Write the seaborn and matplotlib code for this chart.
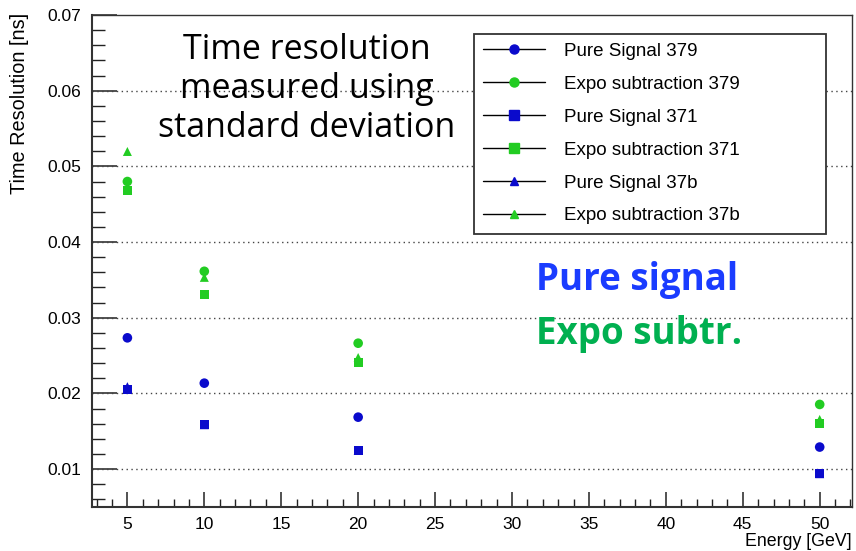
import matplotlib
matplotlib.use("Agg")
import matplotlib.pyplot as plt
from matplotlib.lines import Line2D
from matplotlib.ticker import MultipleLocator
import numpy as np
import pandas as pd
import seaborn as sns

# Beam energies [GeV]
energies = [5, 10, 20, 50]

# Time resolution [ns] from the standard deviation of the timing distribution
pure_379 = [0.02735, 0.02136, 0.01687, 0.01292]
expo_379 = [0.0480, 0.03614, 0.02664, 0.01855]
pure_371 = [0.02055, 0.01587, 0.01248, 0.00940]
expo_371 = [0.0468, 0.0331, 0.02413, 0.01608]
pure_37b = [0.0209, 0.01587, 0.01248, 0.00940]
expo_37b = [0.05197, 0.03534, 0.02475, 0.01657]

series_labels = ["Pure Signal 379", "Expo subtraction 379",
                 "Pure Signal 371", "Expo subtraction 371",
                 "Pure Signal 37b", "Expo subtraction 37b"]
series_values = [pure_379, expo_379, pure_371, expo_371, pure_37b, expo_37b]

BLUE = "#0a0acc"
GREEN = "#22cc22"
series_colors = [BLUE, GREEN, BLUE, GREEN, BLUE, GREEN]
series_markers = ["o", "o", "s", "s", "^", "^"]
series_sizes = [48, 48, 44, 44, 42, 42]

frames = []
for lab, vals in zip(series_labels, series_values):
    frames.append(pd.DataFrame({"energy": energies, "resolution": vals, "series": lab}))
df = pd.concat(frames, ignore_index=True)

sns.set_style("white")
plt.rcParams["font.family"] = ["Liberation Sans", "DejaVu Sans"]
plt.rcParams["text.color"] = "black"
plt.rcParams["xtick.color"] = "black"
plt.rcParams["ytick.color"] = "black"

fig = plt.figure(figsize=(8.56, 5.51), dpi=100)
ax = fig.add_axes([92 / 856, 44 / 551, 760 / 856, 492 / 551])

for lab, col, mk, sz in zip(series_labels, series_colors, series_markers, series_sizes):
    sub = df[df["series"] == lab]
    sns.scatterplot(data=sub, x="energy", y="resolution", ax=ax, color=col,
                    marker=mk, s=sz, edgecolor="none", linewidth=0,
                    legend=False, zorder=3)

ax.set_xlim(2.7, 52.1)
ax.set_ylim(0.005, 0.07)

ax.xaxis.set_minor_locator(MultipleLocator(1))
ax.yaxis.set_minor_locator(MultipleLocator(0.002))
ax.set_xticks([5, 10, 15, 20, 25, 30, 35, 40, 45, 50])
ax.set_xticklabels(["5", "10", "15", "20", "25", "30", "35", "40", "45", "50"])
ax.set_yticks([0.01, 0.02, 0.03, 0.04, 0.05, 0.06, 0.07])
ax.set_yticklabels(["0.01", "0.02", "0.03", "0.04", "0.05", "0.06", "0.07"])

ax.tick_params(axis="x", which="major", direction="in", length=11, width=1.1,
               labelsize=12.5, pad=7, color="#222222", labelcolor="black",
               bottom=True, top=False)
ax.tick_params(axis="x", which="minor", direction="in", length=6, width=1.0,
               color="#222222", bottom=True, top=False)
ax.tick_params(axis="y", which="major", direction="in", length=18, width=1.1,
               labelsize=12.5, pad=8, color="#222222", labelcolor="black",
               left=True, right=False)
ax.tick_params(axis="y", which="minor", direction="in", length=9, width=1.0,
               color="#222222", left=True, right=False)

ax.grid(False)
for yv in [0.01, 0.02, 0.03, 0.04, 0.05, 0.06]:
    ax.axhline(yv, color="#444444", linewidth=1.0, linestyle=(0, (1, 2.5)), zorder=1)

for side, sp in ax.spines.items():
    sp.set_visible(True)
    sp.set_color("#333333")
    sp.set_linewidth(1.0)
ax.spines["left"].set_linewidth(1.5)
ax.spines["bottom"].set_linewidth(1.5)

ax.set_xlabel("")
ax.set_ylabel("")
fig.text(20 / 856, 1 - 13 / 551, "Time Resolution [ns]", rotation=90,
         ha="center", va="top", fontsize=14.3)
fig.text(852 / 856, 1 - 541 / 551, "Energy [GeV]", ha="right", va="center",
         fontsize=12.8)

# Legend with the line-through-marker handles
handles = [Line2D([0], [0], color="black", linewidth=1.0, marker=mk,
                  markersize=6.5 if mk != "^" else 6, markerfacecolor=col,
                  markeredgecolor=col)
           for col, mk in zip(series_colors, series_markers)]
leg = ax.legend(handles, series_labels, loc="upper left",
                bbox_to_anchor=((474 - 92) / 760, (507 - 34) / 492, (826 - 474) / 760, 0.001),
                mode="expand", fontsize=13.5, frameon=True, fancybox=False,
                framealpha=1, edgecolor="#333333", borderpad=0.5,
                labelspacing=0.84, handlelength=3.3, handletextpad=1.0,
                borderaxespad=0)
leg.get_frame().set_linewidth(1.3)
leg.set_zorder(5)

# Annotations
ax.text(0.283, 0.85, "Time resolution\nmeasured using\nstandard deviation",
        transform=ax.transAxes, ha="center", va="center", fontsize=24.5,
        family=["Open Sans", "DejaVu Sans"], linespacing=1.2, color="black",
        zorder=4)
ax.text(0.717, 0.441, "Pure signal", transform=ax.transAxes, ha="center",
        va="baseline", fontsize=26.5, fontweight="bold",
        family=["Open Sans", "DejaVu Sans"], color="#1a3cff", zorder=4)
ax.text(0.72, 0.331, "Expo subtr.", transform=ax.transAxes, ha="center",
        va="baseline", fontsize=26.5, fontweight="bold",
        family=["Open Sans", "DejaVu Sans"], color="#00b050", zorder=4)

fig.savefig("out.png", dpi=100, facecolor="white")
